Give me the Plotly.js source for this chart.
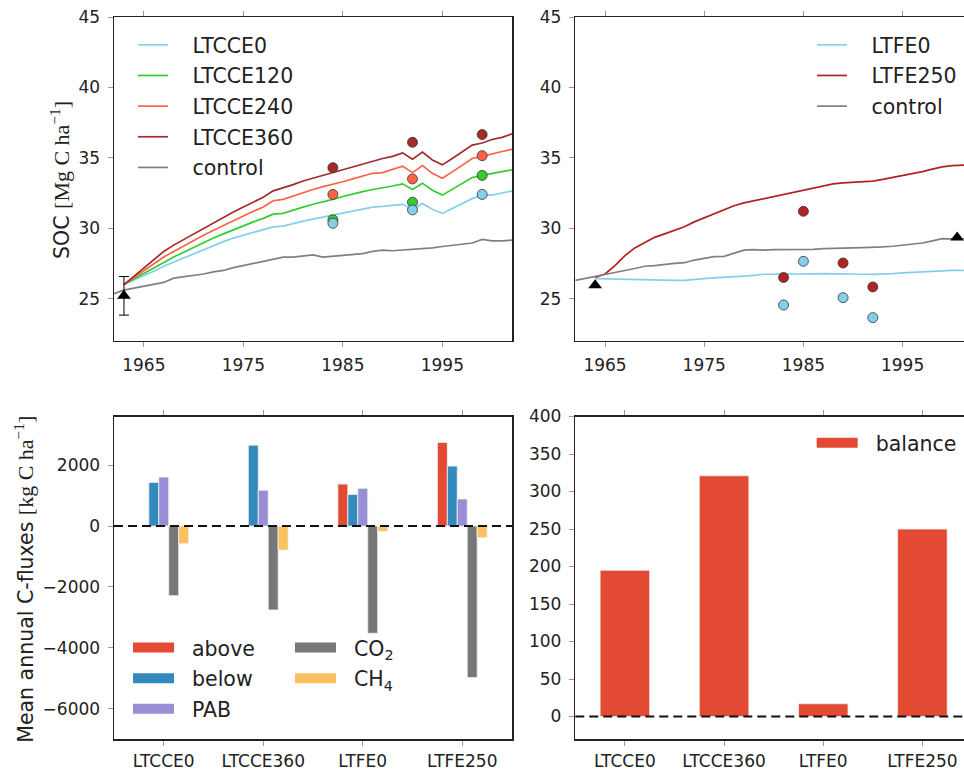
<!DOCTYPE html>
<html>
<head>
<meta charset="utf-8">
<script src="https://cdn.plot.ly/plotly-3.0.1.min.js"></script>
<style>
html, body { margin:0; padding:0; overflow:hidden; background:#fff; }
#chart { width:980px; height:772px; }
</style>
</head>
<body>
<div id="chart"></div>
<script>
// ---------- DATA ----------
const yearsLTCCE = [1963,1964,1965,1966,1967,1968,1969,1970,1971,1972,1973,1974,1975,1976,1977,1978,1979,1980,1981,1982,1983,1984,1985,1986,1987,1988,1989,1990,1991,1992,1993,1994,1995,1996,1997,1998,1999,2000,2001,2002];
const LTCCE0   = [26.0,26.3,26.6,26.95,27.3,27.6,27.9,28.2,28.5,28.8,29.05,29.3,29.5,29.7,29.9,30.1,30.15,30.35,30.5,30.65,30.8,30.9,31.05,31.25,31.35,31.5,31.55,31.65,31.7,31.35,31.75,31.35,31.05,31.4,31.75,32.1,32.35,32.35,32.5,32.65];
const LTCCE120 = [26.0,26.4,26.8,27.2,27.6,27.95,28.3,28.65,28.95,29.3,29.6,29.9,30.2,30.45,30.7,31.0,31.05,31.3,31.5,31.7,31.85,32.05,32.25,32.45,32.6,32.75,32.85,33.0,33.15,32.75,33.2,32.7,32.35,32.75,33.15,33.6,33.75,33.9,34.0,34.15];
const LTCCE240 = [26.0,26.5,27.0,27.5,27.95,28.35,28.75,29.15,29.5,29.85,30.2,30.55,30.85,31.2,31.5,31.95,32.05,32.3,32.55,32.75,32.95,33.1,33.3,33.5,33.7,33.9,33.95,34.15,34.4,33.95,34.45,33.9,33.55,34.0,34.5,34.95,35.1,35.3,35.45,35.6];
const LTCCE360 = [26.0,26.6,27.2,27.8,28.35,28.8,29.2,29.6,30.0,30.4,30.8,31.15,31.5,31.85,32.2,32.65,32.85,33.1,33.35,33.55,33.8,34.0,34.2,34.4,34.6,34.8,34.95,35.1,35.35,34.9,35.4,34.85,34.5,34.95,35.45,35.9,36.05,36.3,36.45,36.7];

const yearsControl = [1962,1963,1964,1965,1966,1967,1968,1969,1970,1971,1972,1973,1974,1975,1976,1977,1978,1979,1980,1981,1982,1983,1984,1985,1986,1987,1988,1989,1990,1991,1992,1993,1994,1995,1996,1997,1998,1999,2000,2001,2002];
const controlLTCCE = [25.35,25.6,25.75,25.9,26.0,26.15,26.45,26.55,26.6,26.75,26.9,27.0,27.2,27.35,27.5,27.65,27.75,27.95,27.95,28.0,28.1,27.95,28.0,28.1,28.15,28.2,28.35,28.45,28.4,28.45,28.45,28.55,28.6,28.7,28.8,28.9,28.95,29.2,29.1,29.1,29.15];
const controlLTFE = [26.3,26.45,26.58,26.73,26.9,27.0,27.14,27.3,27.35,27.45,27.5,27.55,27.74,27.86,27.98,28.0,28.2,28.44,28.48,28.44,28.48,28.48,28.45,28.48,28.5,28.55,28.58,28.62,28.6,28.62,28.62,28.67,28.72,28.79,28.86,28.95,29.1,29.26,29.24,29.26,29.26];

const yearsLTFE = [1964,1965,1966,1967,1968,1969,1970,1971,1972,1973,1974,1975,1976,1977,1978,1979,1980,1981,1982,1983,1984,1985,1986,1987,1988,1989,1990,1991,1992,1993,1994,1995,1996,1997,1998,1999,2000,2001,2002];
const LTFE0   = [26.42,26.4,26.38,26.37,26.35,26.32,26.3,26.3,26.3,26.3,26.38,26.42,26.47,26.5,26.55,26.6,26.65,26.73,26.73,26.78,26.75,26.73,26.76,26.78,26.78,26.78,26.75,26.73,26.72,26.73,26.78,26.83,26.86,26.9,26.95,27.0,27.0,27.0,26.98];
const LTFE250 = [26.5,26.75,27.35,28.05,28.6,29.0,29.35,29.6,29.85,30.1,30.45,30.75,31.05,31.3,31.6,31.8,31.95,32.05,32.2,32.35,32.5,32.65,32.8,33.0,33.15,33.22,33.27,33.3,33.35,33.47,33.6,33.73,33.9,34.02,34.2,34.35,34.44,34.49,34.52];

// observations
const obsYearsLTCCE = [1984, 1992, 1999];
const obsLTCCE0   = [30.35, 31.3, 32.4];
const obsLTCCE120 = [30.6, 31.85, 33.75];
const obsLTCCE240 = [32.4, 33.5, 35.15];
const obsLTCCE360 = [34.3, 36.1, 36.65];
const initYearLTCCE = [1963];
const initSOCLTCCE = [25.2];
const initErrLTCCE = [1.37];

const obsYearsLTFE = [1983, 1985, 1989, 1992];
const obsLTFE0   = [24.55, 27.65, 25.07, 23.65];
const obsLTFE250 = [26.5, 31.2, 27.53, 25.83];
const refYearsLTFE = [1964, 2000.5];
const refSOCLTFE = [25.95, 29.34];

// fluxes
const sites = ['LTCCE0', 'LTCCE360', 'LTFE0', 'LTFE250'];
const fluxAbove = [0, 0, 1380, 2750];
const fluxBelow = [1435, 2660, 1040, 1970];
const fluxPAB   = [1610, 1180, 1240, 890];
const fluxCO2   = [-2290, -2760, -3525, -4980];
const fluxCH4   = [-580, -790, -175, -385];
const balance   = [195, 321, 17, 250];

const xTicksYears = [1965, 1975, 1985, 1995];
const socTicks = [25, 30, 35, 40, 45];
const fluxTicks = [-6000, -4000, -2000, 0, 2000];
const fluxTickText = ['\u22126000', '\u22124000', '\u22122000', '0', '2000'];
const balTicks = [0, 50, 100, 150, 200, 250, 300, 350, 400];

// ---------- STYLE ----------
const C = {
  c0: '#87CEEB', c120: '#32CD32', c240: '#FF6347', c360: '#A52A2A', ctrl: '#808080', fe250: '#B22222',
  above: '#E24A33', below: '#348ABD', pab: '#988ED5', co2: '#777777', ch4: '#FBC15E'
};
const FONT = 'DejaVu Sans, sans-serif';
const PAD3 = '\u00a0\u00a0\u00a0';
const PAD2 = '\u00a0\u00a0';

function line(x, y, name, color, xa, ya, lg) {
  return {type:'scatter', mode:'lines', x:x, y:y, name:PAD3 + name, legendgroup:lg + name,
          xaxis:xa, yaxis:ya, line:{color:color, width:1.7}, legend:lg, hoverinfo:'skip'};
}
function pts(x, y, color, xa, ya) {
  return {type:'scatter', mode:'markers', x:x, y:y, xaxis:xa, yaxis:ya, showlegend:false,
          marker:{symbol:'circle', size:10, color:color, line:{color:'#333', width:0.8}}, hoverinfo:'skip'};
}
function bar(y, name, color) {
  return {type:'bar', x:sites, y:y, name:name, xaxis:'x3', yaxis:'y3', showlegend:false,
          marker:{color:color, line:{color:'#f2f2f2', width:0.8}}, hoverinfo:'skip'};
}
function swatch(name, color, xa, ya, lg) {
  return {type:'scatter', mode:'lines', x:[null], y:[null], name:PAD2 + name, legendgroup:lg + name,
          xaxis:xa, yaxis:ya, line:{color:color, width:13}, legend:lg, hoverinfo:'skip'};
}

const traces = [
  line(yearsLTCCE, LTCCE0, 'LTCCE0', C.c0, 'x', 'y', 'legend'),
  line(yearsLTCCE, LTCCE120, 'LTCCE120', C.c120, 'x', 'y', 'legend'),
  line(yearsLTCCE, LTCCE240, 'LTCCE240', C.c240, 'x', 'y', 'legend'),
  line(yearsLTCCE, LTCCE360, 'LTCCE360', C.c360, 'x', 'y', 'legend'),
  line(yearsControl, controlLTCCE, 'control', C.ctrl, 'x', 'y', 'legend'),
  pts(obsYearsLTCCE, obsLTCCE360, C.c360, 'x', 'y'),
  pts(obsYearsLTCCE, obsLTCCE240, C.c240, 'x', 'y'),
  pts(obsYearsLTCCE, obsLTCCE120, C.c120, 'x', 'y'),
  pts(obsYearsLTCCE, obsLTCCE0, C.c0, 'x', 'y'),
  {type:'scatter', mode:'markers', x:initYearLTCCE, y:initSOCLTCCE, xaxis:'x', yaxis:'y', showlegend:false,
   marker:{symbol:'triangle-up', size:12, color:'#000'},
   error_y:{type:'data', array:initErrLTCCE, visible:true, color:'#000', thickness:1, width:5}, hoverinfo:'skip'},

  line(yearsLTFE, LTFE0, 'LTFE0', C.c0, 'x2', 'y2', 'legend2'),
  line(yearsLTFE, LTFE250, 'LTFE250', C.fe250, 'x2', 'y2', 'legend2'),
  line(yearsControl, controlLTFE, 'control', C.ctrl, 'x2', 'y2', 'legend2'),
  pts(obsYearsLTFE, obsLTFE250, C.fe250, 'x2', 'y2'),
  pts(obsYearsLTFE, obsLTFE0, C.c0, 'x2', 'y2'),
  {type:'scatter', mode:'markers', x:refYearsLTFE, y:refSOCLTFE, xaxis:'x2', yaxis:'y2', showlegend:false,
   marker:{symbol:'triangle-up', size:12, color:'#000'}, hoverinfo:'skip'},

  bar(fluxAbove, 'above', C.above),
  bar(fluxBelow, 'below', C.below),
  bar(fluxPAB, 'PAB', C.pab),
  bar(fluxCO2, 'CO<sub>2</sub>', C.co2),
  bar(fluxCH4, 'CH<sub>4</sub>', C.ch4),
  swatch('above', C.above, 'x3', 'y3', 'legend3'),
  swatch('below', C.below, 'x3', 'y3', 'legend3'),
  swatch('PAB', C.pab, 'x3', 'y3', 'legend3'),
  swatch('CO<sub>2</sub>', C.co2, 'x3', 'y3', 'legend4'),
  swatch('CH<sub>4</sub>', C.ch4, 'x3', 'y3', 'legend4'),

  {type:'bar', x:sites, y:balance, name:'balance', xaxis:'x4', yaxis:'y4', showlegend:false,
   marker:{color:C.above, line:{color:'#f2f2f2', width:0.8}}, hoverinfo:'skip'},
  swatch('balance', C.above, 'x4', 'y4', 'legend5')
];

// ---------- LAYOUT ----------
const W = 980, H = 772;
const mL = 114, mR = 8, mT = 17, mB = 32.7;
const pw = W - mL - mR, ph = H - mT - mB;
const px = v => (v - mL) / pw;          // pixel x -> paper
const py = v => (H - mB - v) / ph;      // pixel y -> paper

const tickfont = {family:FONT, size:17, color:'#222'};
function xAxis(extra) {
  return Object.assign({showline:true, linecolor:'#222', linewidth:1.5, mirror:'ticks', ticks:'outside',
    ticklen:5, tickwidth:1, tickcolor:'#999', showgrid:false, zeroline:false, tickfont:tickfont,
    ticklabelstandoff:3, fixedrange:true}, extra);
}
function yAxis(extra) {
  return Object.assign({showline:true, linecolor:'#222', linewidth:1.5, mirror:true, ticks:'outside',
    ticklen:5, tickwidth:1, tickcolor:'#999', showgrid:false, zeroline:false, tickfont:tickfont,
    ticklabelstandoff:4, fixedrange:true}, extra);
}
const legBase = {font:{family:FONT, size:20.5, color:'#222'}, bgcolor:'rgba(0,0,0,0)', borderwidth:0,
  itemwidth:30, xanchor:'left', yanchor:'top', tracegroupgap:1, itemclick:false, itemdoubleclick:false};

const topDom = [py(341), 1];
const botDom = [0, py(416.7)];
const leftDom = [0, px(512)];
const rightDom = [px(575.3), 1];

const SERIF = 'font-family:Liberation Serif, serif;font-size:22px';

const layout = {
  width: W, height: H,
  margin: {l:mL, r:mR, t:mT, b:mB, pad:0},
  paper_bgcolor:'#fff', plot_bgcolor:'#fff',
  font: {family:FONT, color:'#222'},
  barmode:'group', bargap:0.5, bargroupgap:0,
  xaxis: xAxis({domain:leftDom, anchor:'y', range:[1962, 2002], tickvals:xTicksYears}),
  yaxis: yAxis({domain:topDom, anchor:'x', range:[22, 45], tickvals:socTicks}),
  xaxis2: xAxis({domain:rightDom, anchor:'y2', range:[1962, 2002], tickvals:xTicksYears}),
  yaxis2: yAxis({domain:topDom, anchor:'x2', range:[22, 45], tickvals:socTicks}),
  xaxis3: xAxis({domain:leftDom, anchor:'y3', type:'category', range:[-0.5, 3.5], ticklabelstandoff:1}),
  yaxis3: yAxis({domain:botDom, anchor:'x3', range:[-7000, 3600], tickvals:fluxTicks, ticktext:fluxTickText}),
  xaxis4: xAxis({domain:rightDom, anchor:'y4', type:'category', range:[-0.5, 3.5], ticklabelstandoff:1}),
  yaxis4: yAxis({domain:botDom, anchor:'x4', range:[-30, 400], tickvals:balTicks}),
  legend:  Object.assign({}, legBase, {x:px(133), y:py(25)}),
  legend2: Object.assign({}, legBase, {x:px(812), y:py(25)}),
  legend3: Object.assign({}, legBase, {x:px(128), y:py(628), itemwidth:41}),
  legend4: Object.assign({}, legBase, {x:px(290), y:py(628), itemwidth:41}),
  legend5: Object.assign({}, legBase, {x:px(811.7), y:py(423), itemwidth:41}),
  shapes: [
    {type:'line', xref:'x3 domain', yref:'y3', x0:0, x1:1, y0:0, y1:0, layer:'above',
     line:{color:'#111', width:2, dash:'9px,5px'}},
    {type:'line', xref:'x4 domain', yref:'y4', x0:0, x1:1, y0:0, y1:0, layer:'above',
     line:{color:'#111', width:2, dash:'9px,5px'}}
  ],
  annotations: [
    {text:'SOC <span style="' + SERIF + '">[Mg C ha<sup>\u22121</sup>]</span>',
     xref:'paper', yref:'paper', x:px(60), y:py(180), textangle:-90, showarrow:false,
     xanchor:'center', yanchor:'middle', font:{family:FONT, size:20.5, color:'#222'}},
    {text:'Mean annual C-fluxes <span style="' + SERIF + '">[kg C ha<sup>\u22121</sup>]</span>',
     xref:'paper', yref:'paper', x:px(24), y:py(580), textangle:-90, showarrow:false,
     xanchor:'center', yanchor:'middle', font:{family:FONT, size:20.5, color:'#222'}}
  ]
};

Plotly.newPlot('chart', traces, layout, {staticPlot:true, displayModeBar:false});
</script>
</body>
</html>
